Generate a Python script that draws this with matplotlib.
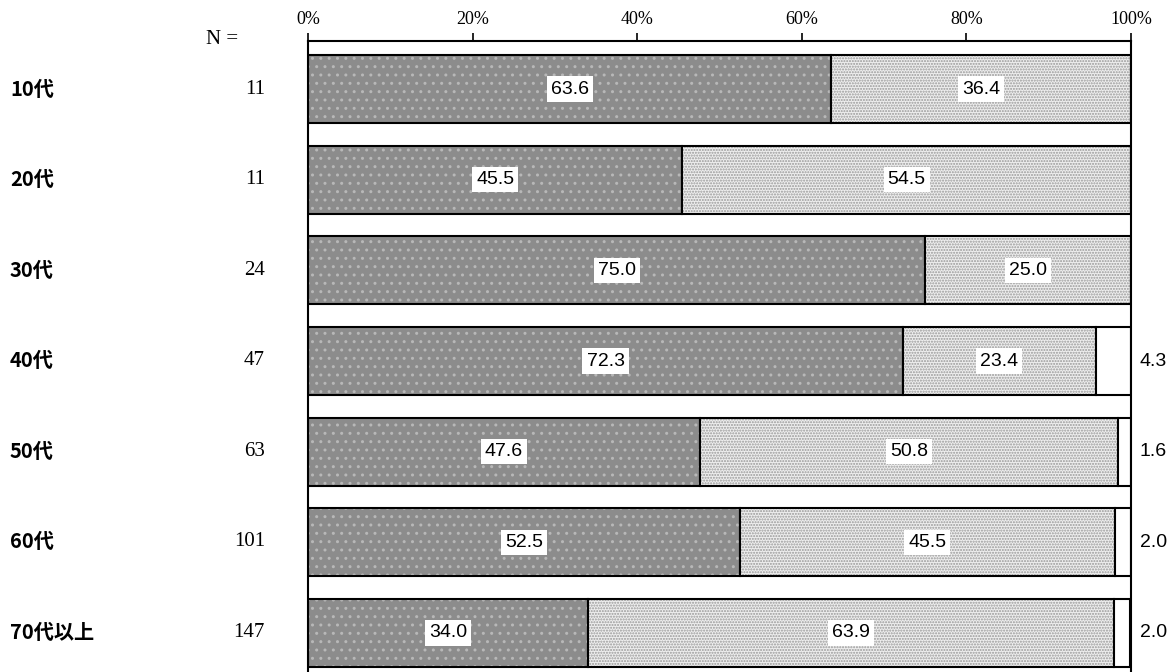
import matplotlib.pyplot as plt
import matplotlib as mpl

plt.rcParams['font.family'] = ['Liberation Sans', 'Noto Sans CJK JP', 'DejaVu Sans']
mpl.rcParams['hatch.linewidth'] = 1.0

# data
groups = ['10代', '20代', '30代', '40代', '50代', '60代', '70代以上']
n_values = [11, 11, 24, 47, 63, 101, 147]
first = [63.6, 45.5, 75.0, 72.3, 47.6, 52.5, 34.0]
second = [36.4, 54.5, 25.0, 23.4, 50.8, 45.5, 63.9]
third = [0, 0, 0, 4.3, 1.6, 2.0, 2.0]
ticks = [0, 20, 40, 60, 80, 100]

fig = plt.figure(figsize=(11.69, 6.72), dpi=100)
# axes spans 308..1131 px horizontally, top at y=41
ax = fig.add_axes([308 / 1169, (672 - 681) / 672, (1131 - 308) / 1169, 640 / 672])

y = list(range(len(groups)))
h = 0.75

# dark segment: grey with light dots
ax.barh(y, first, height=h, color='#8c8c8c', edgecolor='#b8b8b8', hatch='..', linewidth=0)
ax.barh(y, first, height=h, fill=False, edgecolor='black', linewidth=1.5)
# light segment: white with fine grey dots
ax.barh(y, second, left=first, height=h, color='#eeeeee', edgecolor='#999999', hatch='......', linewidth=0)
ax.barh(y, second, left=first, height=h, fill=False, edgecolor='black', linewidth=1.5)
# remainder
left3 = [a + b for a, b in zip(first, second)]
ax.barh(y, third, left=left3, height=h, color='white', edgecolor='black', linewidth=1.5)

box = dict(facecolor='white', edgecolor='none', pad=3)
for i in y:
    ax.text(first[i] / 2, i, f'{first[i]:.1f}', ha='center', va='center', fontsize=14, bbox=box)
    ax.text(first[i] + second[i] / 2, i, f'{second[i]:.1f}', ha='center', va='center', fontsize=14, bbox=box)
    if third[i] > 0:
        ax.annotate(f'{third[i]:.1f}', xy=(100, i), xytext=(16, 0), textcoords='offset points',
                    ha='center', va='center', fontsize=14, annotation_clip=False)
    fig.text(10 / 1169, 1 - (89 + 90.6 * i) / 672, groups[i], ha='left', va='center',
             fontsize=14.5, fontweight='bold', family=['Noto Sans CJK JP', 'DejaVu Sans'])
    fig.text(265 / 1169, 1 - (89 + 90.6 * i) / 672, str(n_values[i]), ha='right', va='center',
             fontsize=15, family='Liberation Serif')

fig.text(222 / 1169, 1 - 40 / 672, 'N =', ha='center', va='center', fontsize=15, family='Liberation Serif')

ax.set_xlim(0, 100)
ax.set_ylim(len(groups) - 1 + 0.53, -0.53)
ax.xaxis.tick_top()
ax.set_xticks(ticks)
ax.set_xticklabels([f'{t}%' for t in ticks], family='Liberation Serif', fontsize=13)
ax.tick_params(axis='x', direction='out', length=6, width=1.2, pad=3)
ax.set_yticks([])
for s in ['top', 'left', 'right', 'bottom']:
    ax.spines[s].set_linewidth(1.5)

plt.savefig('out.png', dpi=100)
